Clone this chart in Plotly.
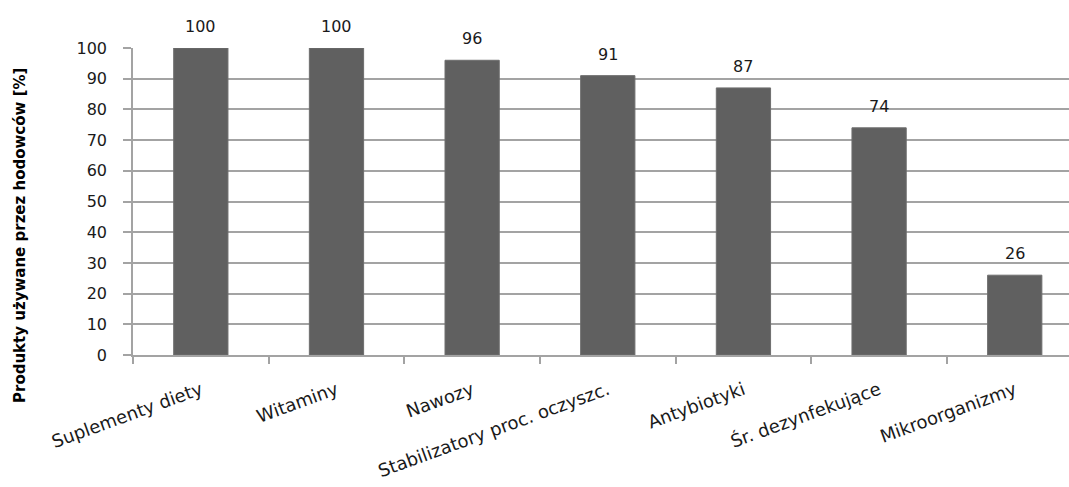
import plotly.graph_objects as go

categories = ["Suplementy diety", "Witaminy", "Nawozy", "Stabilizatory proc. oczyszc.",
              "Antybiotyki", "Śr. dezynfekujące", "Mikroorganizmy"]
values = [100, 100, 96, 91, 87, 74, 26]
y_ticks = [0, 10, 20, 30, 40, 50, 60, 70, 80, 90, 100]

W, H = 1069, 487
L, R, T, B = 133, 0, 48, 132

grid = "#a3a3a3"
txt = "#1a1a1a"
font_family = "DejaVu Sans, sans-serif"

fig = go.Figure()
fig.add_trace(go.Bar(
    x=categories, y=values,
    width=0.4,
    marker=dict(color="#606060", line=dict(color="#6e6e6e", width=1)),
    cliponaxis=False,
))

annotations = [dict(
    x=c, y=v, xref="x", yref="y",
    text=str(v), showarrow=False,
    xanchor="center", yanchor="bottom", yshift=10,
    font=dict(size=16, color=txt, family=font_family),
) for c, v in zip(categories, values)]

annotations.append(dict(
    text="<b>Produkty używane przez hodowców [%]</b>",
    xref="paper", yref="paper",
    x=(20 - L) / (W - L - R), y=(355 - 236) / (355 - T),
    xanchor="center", yanchor="middle",
    textangle=-90, showarrow=False,
    font=dict(size=15, color="#000000", family=font_family),
))

fig.update_layout(
    width=W, height=H,
    margin=dict(l=L, r=R, t=T, b=B, pad=0),
    paper_bgcolor="white", plot_bgcolor="white",
    showlegend=False,
    font=dict(family=font_family, color=txt),
    xaxis=dict(
        type="category",
        range=[-0.5, 6.40],
        tickson="boundaries",
        ticks="outside", ticklen=7, tickcolor=grid, tickwidth=1.5,
        showline=True, linecolor=grid, linewidth=1.5,
        showgrid=False,
        tickangle=-20,
        ticklabelstandoff=16,
        tickfont=dict(size=18, color=txt, family=font_family),
    ),
    yaxis=dict(
        range=[0, 100],
        tickvals=y_ticks,
        ticks="outside", ticklen=8, tickcolor=grid, tickwidth=1.5,
        showline=True, linecolor=grid, linewidth=1.5,
        showgrid=True, gridcolor=grid, gridwidth=1.5,
        zeroline=False,
        ticklabelstandoff=13,
        tickfont=dict(size=16, color=txt, family=font_family),
    ),
    annotations=annotations,
    bargap=0.6,
)

fig.write_html("out.html")
